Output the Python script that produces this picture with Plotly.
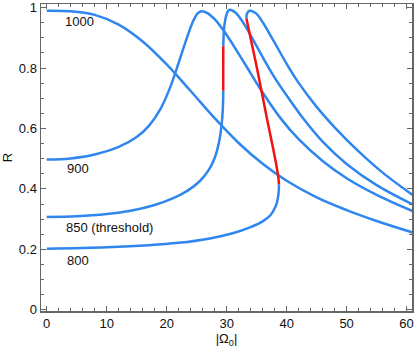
import plotly.graph_objects as go

# ---- data ----
x_1000 = [0, 4, 8, 12, 16, 20, 24, 28, 32, 36, 40, 45, 50, 55, 61, 62]
y_1000 = [0.99, 0.988, 0.976, 0.944, 0.888, 0.812, 0.724, 0.634, 0.552, 0.483, 0.427, 0.372, 0.33, 0.294, 0.256, 0.25]

x_900 = [0, 4, 8, 12, 15, 17, 19, 20.5, 22, 23.5, 24.5, 25.2, 25.8,
         26.8, 28, 30, 33, 36, 39, 42, 46, 50, 55, 61, 62]
y_900 = [0.497, 0.501, 0.514, 0.539, 0.572, 0.608, 0.666, 0.732, 0.8175, 0.9075, 0.959, 0.982, 0.988,
         0.982, 0.9616, 0.9096, 0.815, 0.719, 0.6335, 0.5645, 0.4925, 0.4355, 0.3805, 0.3265, 0.318]

x_850 = [0, 5, 10, 14, 18, 21, 23.5, 25.5, 27, 28, 28.8, 29.15, 29.35, 29.42,
         29.43, 29.43, 29.44,
         29.5, 29.65, 29.9, 30.2, 30.5, 31.5, 32.5, 34, 36, 38, 40, 43, 46, 50, 55, 61, 62]
y_850 = [0.307, 0.3095, 0.317, 0.328, 0.347, 0.3688, 0.3944, 0.4254, 0.4622, 0.5022, 0.5622, 0.61, 0.66, 0.70,
         0.725, 0.80, 0.872,
         0.91, 0.945, 0.972, 0.988, 0.993, 0.983, 0.958, 0.9085, 0.8365, 0.7685, 0.7095, 0.627, 0.5565, 0.4825, 0.4125, 0.349, 0.34]
red_850 = (14, 16)  # index range of the unstable (red) part

x_800 = [0, 10, 17, 22, 27, 31, 34, 36, 37.3, 38.2, 38.5, 38.67, 38.73,
         38.6, 38.2, 37.5, 36.7, 35.9, 35.1, 34.2, 33.3,
         33.32, 33.5, 33.75, 34.0, 34.4, 35, 36, 38, 40, 42, 45, 48, 52, 56, 61, 62]
y_800 = [0.202, 0.207, 0.2137, 0.2217, 0.2354, 0.2534, 0.2737, 0.2927, 0.3127, 0.3442, 0.365, 0.39, 0.415,
         0.44, 0.488, 0.558, 0.635, 0.715, 0.795, 0.88, 0.964,
         0.975, 0.984, 0.989, 0.99, 0.987, 0.979, 0.952, 0.884, 0.814, 0.751, 0.6715, 0.604, 0.524, 0.454, 0.38, 0.366]
red_800 = (12, 20)

labels = ["1000", "900", "850 (threshold)", "800"]
label_x = [5.55, 5.3, 10.55, 5.2]
label_y = [0.955, 0.469, 0.272, 0.164]

x_ticks = [0, 10, 20, 30, 40, 50, 60]
y_ticks = [0, 0.2, 0.4, 0.6, 0.8, 1]

BLUE = "#2E86EE"
RED = "#F21212"
LW = 2.5
FONT = "Liberation Sans, Arial"

fig = go.Figure()


def seg(xs, ys, color):
    fig.add_trace(go.Scatter(x=xs, y=ys, mode="lines",
                             line=dict(color=color, width=LW, shape="spline", smoothing=1),
                             hoverinfo="skip", showlegend=False))


seg(x_1000, y_1000, BLUE)
seg(x_900, y_900, BLUE)
a, b = red_850
seg(x_850[:a + 1], y_850[:a + 1], BLUE)
seg(x_850[b:], y_850[b:], BLUE)
seg(x_850[a:b + 1], y_850[a:b + 1], RED)
a, b = red_800
seg(x_800[:a + 1], y_800[:a + 1], BLUE)
seg(x_800[b:], y_800[b:], BLUE)
seg(x_800[a:b + 1], y_800[a:b + 1], RED)

for t, lx, ly in zip(labels, label_x, label_y):
    fig.add_annotation(x=lx, y=ly, text=t, showarrow=False,
                       font=dict(size=13, color="#111", family=FONT))

axis_common = dict(showline=True, linecolor="#666", linewidth=1.5, mirror="allticks",
                   ticks="inside", tickcolor="#666", tickwidth=1, ticklen=5,
                   showgrid=False, zeroline=False, automargin=False,
                   tickfont=dict(size=13, color="#111", family=FONT))

fig.update_xaxes(range=[-0.95, 60.9], tickvals=x_ticks,
                 minor=dict(dtick=2, ticks="inside", ticklen=3, tickcolor="#666", tickwidth=1),
                 title=dict(text="|Ω<sub>0</sub>|", standoff=4,
                            font=dict(size=13, color="#111", family=FONT)),
                 **axis_common)
fig.update_yaxes(range=[-0.004, 1.012], tickvals=y_ticks,
                 minor=dict(dtick=0.05, ticks="inside", ticklen=3, tickcolor="#666", tickwidth=1),
                 title=dict(text="R", standoff=4,
                            font=dict(size=13, color="#111", family=FONT)),
                 **axis_common)

fig.update_layout(width=415, height=357, margin=dict(l=41, r=3, t=4, b=46),
                  plot_bgcolor="white", paper_bgcolor="white")

fig.write_html("out.html", config={"displayModeBar": False, "staticPlot": True},
               post_script="document.body.style.margin='0';document.body.style.overflow='hidden';")
